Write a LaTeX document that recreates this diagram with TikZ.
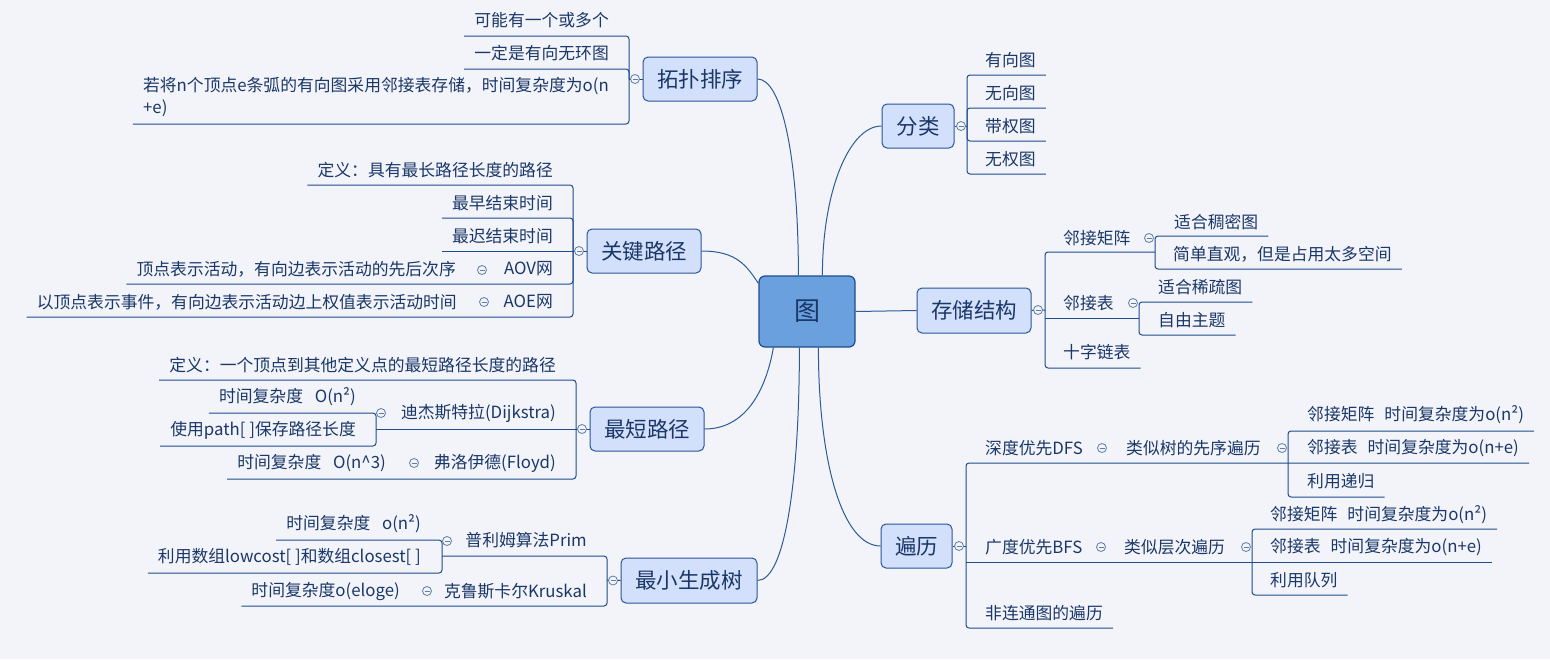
\documentclass[tikz,border=0pt]{standalone}
\usepackage{fontspec}
\setmainfont{Noto Sans CJK SC}
\definecolor{bgc}{HTML}{F2F4FA}
\definecolor{txt}{HTML}{1B3768}
\definecolor{lnc}{HTML}{1F4C8C}
\definecolor{conc}{HTML}{2F5B94}
\definecolor{mfill}{HTML}{D2E0FC}
\definecolor{mdraw}{HTML}{2A5599}
\definecolor{rfill}{HTML}{69A0DD}
\definecolor{rdraw}{HTML}{1B4E8E}
\definecolor{cc}{HTML}{5E7DA8}
\begin{document}
\begin{tikzpicture}[x=1pt,y=-1pt,
  rootbox/.style={draw=rdraw, fill=rfill, line width=1.2pt, rounded corners=6pt,
    minimum width=96pt, minimum height=71pt, inner sep=0pt, text=txt,
    font=\fontsize{26}{30}\selectfont},
  mtopic/.style={draw=mdraw, fill=mfill, line width=1pt, rounded corners=5pt,
    minimum height=44pt, inner sep=0pt, text=txt, font=\fontsize{21.5}{26}\selectfont},
  leaf/.style={inner xsep=10pt, inner ysep=1pt, text=txt, font=\fontsize{16.8}{22}\selectfont},
  leafl/.style={leaf, anchor=east},
  leafr/.style={leaf, anchor=west},
  uline/.style={draw=lnc, line width=1pt},
  rnd/.style={rounded corners=3pt},
  conn/.style={draw=conc, line width=1pt},
  colc/.style={circle, draw=cc, fill=bgc, line width=0.8pt, minimum size=9pt, inner sep=0pt,
    path picture={\draw[cc, line width=0.8pt] ([xshift=-2.5pt]path picture bounding box.center) -- ([xshift=2.5pt]path picture bounding box.center);}}
]
\fill[bgc] (0,0) rectangle (1550,659);
\useasboundingbox (0,0) rectangle (1550,659);

% ---------- root and main topics ----------
\node[rootbox] (root) at (807,311.5) {图};
\node[mtopic, minimum width=114pt] (topo) at (700,79) {拓扑排序};
\node[mtopic, minimum width=114pt] (key) at (644,251) {关键路径};
\node[mtopic, minimum width=114pt] (short) at (647,429) {最短路径};
\node[mtopic, minimum width=136pt, minimum height=45pt] (mst) at (689,580.5) {最小生成树};
\node[mtopic, minimum width=72pt] (fenlei) at (918,126) {分类};
\node[mtopic, minimum width=114pt, minimum height=45pt] (store) at (974,310.5) {存储结构};
\node[mtopic, minimum width=71pt] (bianli) at (916.5,546) {遍历};

% ---------- curves from root ----------
\draw[conn] (topo.east) .. controls +(24,0) and +(0,-120) .. ([xshift=40pt]root.north west);
\draw[conn] (key.east) .. controls +(35,0) and +(-12,-18) .. ([yshift=-8pt]root.north west);
\draw[conn] (short.east) .. controls +(40,0) and +(-8,45) .. ([xshift=15pt]root.south west);
\draw[conn] (mst.east) .. controls +(28,0) and +(0,130) .. ([xshift=41pt]root.south west);
\draw[conn] (fenlei.west) .. controls +(-32,0) and +(0,-85) .. ([xshift=64pt]root.north west);
\draw[conn] (root.east) -- (store.west);
\draw[conn] (bianli.west) .. controls +(-38,0) and +(0,115) .. ([xshift=60pt]root.south west);

% ---------- 拓扑排序 ----------
\node[leafl] (t1) at (619,20) {可能有一个或多个};
\node[leafl] (t2) at (619,53) {一定是有向无环图};
\node[leafl, align=left] (t3) at (619,97) {若将n个顶点e条弧的有向图采用邻接表存储，时间复杂度为o(n\\+e)};
\coordinate (bt) at (629,79);
\draw[uline] (topo.west) -- (bt);
\draw[uline, rnd] (bt) -- (bt |- 0,36) -- (t1.west |- 0,36);
\draw[uline, rnd] (bt) -- (bt |- 0,69) -- (t2.west |- 0,69);
\draw[uline, rnd] (bt) -- (bt |- 0,124) -- (t3.west |- 0,124);

% ---------- 关键路径 ----------
\node[leafl] (d1) at (563,170) {定义：具有最长路径长度的路径};
\node[leafl] (d2) at (563,203) {最早结束时间};
\node[leafl] (d3) at (563,236) {最迟结束时间};
\node[leafl] (d4) at (563,269) {AOV网};
\node[leafl] (d4c) at (466,269) {顶点表示活动，有向边表示活动的先后次序};
\node[leafl] (d5) at (563,302) {AOE网};
\node[leafl] (d5c) at (467,302) {以顶点表示事件，有向边表示活动边上权值表示活动时间};
\coordinate (bk) at (573,251);
\draw[uline] (key.west) -- (bk);
\draw[uline, rnd] (bk) -- (bk |- 0,185) -- (d1.west |- 0,185);
\draw[uline, rnd] (bk) -- (bk |- 0,218) -- (d2.west |- 0,218);
\draw[uline] (bk) -- (d3.west |- 0,251);
\draw[uline, rnd] (bk) -- (bk |- 0,284) -- (d4c.west |- 0,284);
\draw[uline, rnd] (bk) -- (bk |- 0,317) -- (d5c.west |- 0,317);

% ---------- 最短路径 ----------
\node[leafl] (e1) at (566,365) {定义：一个顶点到其他定义点的最短路径长度的路径};
\node[leafl] (e2) at (566,413) {迪杰斯特拉(Dijkstra)};
\node[leafl] (e2a) at (366,397) {时间复杂度\hspace{0.7em}O(n²)};
\node[leafl] (e2b) at (366,430) {使用path[ ]保存路径长度};
\node[leafl] (e3) at (566,463) {弗洛伊德(Floyd)};
\node[leafl] (e3c) at (396,463) {时间复杂度\hspace{0.7em}O(n\textasciicircum 3)};
\coordinate (bs) at (576,429);
\coordinate (bs2) at (376,413);
\draw[uline] (short.west) -- (bs);
\draw[uline, rnd] (bs) -- (bs |- 0,380) -- (e1.west |- 0,380);
\draw[uline] (bs) -- (bs2 |- 0,429);
\draw[uline, rnd] (bs) -- (bs |- 0,479) -- (e3c.west |- 0,479);
\draw[uline, rnd] (e2a.west |- 0,413) -- (bs2) -- (bs2 |- 0,446) -- (e2b.west |- 0,446);

% ---------- 最小生成树 ----------
\node[leafl] (f1) at (597,540) {普利姆算法Prim};
\node[leafl] (f1a) at (431,524) {时间复杂度\hspace{0.7em}o(n²)};
\node[leafl] (f1b) at (431,557) {利用数组lowcost[ ]和数组closest[ ]};
\node[leafl] (f2) at (597,591) {克鲁斯卡尔Kruskal};
\node[leafl] (f2c) at (410,591) {时间复杂度o(eloge)};
\coordinate (bm) at (607,580);
\coordinate (bm2) at (442,540);
\draw[uline] (mst.west) -- (bm);
\draw[uline, rnd] (bm) -- (bm |- 0,556) -- (bm2 |- 0,556);
\draw[uline, rnd] (bm) -- (bm |- 0,606) -- (f2c.west |- 0,606);
\draw[uline, rnd] (f1a.west |- 0,540) -- (bm2) -- (bm2 |- 0,573) -- (f1b.west |- 0,573);

% ---------- 分类 ----------
\node[leafr] (g1) at (975,60) {有向图};
\node[leafr] (g2) at (975,93) {无向图};
\node[leafr] (g3) at (975,126) {带权图};
\node[leafr] (g4) at (975,159) {无权图};
\coordinate (bf) at (967,126);
\draw[uline] (fenlei.east) -- (bf);
\draw[uline, rnd] (bf) -- (bf |- 0,75) -- (g1.east |- 0,75);
\draw[uline, rnd] (bf) -- (bf |- 0,108) -- (g2.east |- 0,108);
\draw[uline, rnd] (bf) -- (bf |- 0,141) -- (g3.east |- 0,141);
\draw[uline, rnd] (bf) -- (bf |- 0,174) -- (g4.east |- 0,174);

% ---------- 存储结构 ----------
\node[leafr] (h1) at (1053,238) {邻接矩阵};
\node[leafr] (a1) at (1164,222) {适合稠密图};
\node[leafr] (a2) at (1163,254) {简单直观，但是占用太多空间};
\node[leafr] (h2) at (1053,303) {邻接表};
\node[leafr] (b1) at (1148,287) {适合稀疏图};
\node[leafr] (b2) at (1148,320) {自由主题};
\node[leafr] (h3) at (1053,352) {十字链表};
\coordinate (bc) at (1045,310);
\coordinate (bc1) at (1155,236);
\coordinate (bc2) at (1139,302);
\draw[uline] (store.east) -- (bc);
\draw[uline, rnd] (bc) -- (bc |- 0,252) -- (bc1 |- 0,252);
\draw[uline] (bc |- 0,318) -- (bc2 |- 0,318);
\draw[uline, rnd] (bc) -- (bc |- 0,368) -- (h3.east |- 0,368);
\draw[uline, rnd] (a1.east |- 0,236) -- (bc1) -- (bc1 |- 0,269) -- (a2.east |- 0,269);
\draw[uline, rnd] (b1.east |- 0,302) -- (bc2) -- (bc2 |- 0,335) -- (b2.east |- 0,335);

% ---------- 遍历 ----------
\node[leafr] (k1) at (975,448) {深度优先DFS};
\node[leafr] (k1b) at (1116,448) {类似树的先序遍历};
\node[leafr] (s1) at (1297,415) {邻接矩阵\hspace{0.6em}时间复杂度为o(n²)};
\node[leafr] (s2) at (1297,448) {邻接表\hspace{0.6em}时间复杂度为o(n+e)};
\node[leafr] (s3) at (1297,481) {利用递归};
\node[leafr] (k2) at (975,547) {广度优先BFS};
\node[leafr] (k2b) at (1114,547) {类似层次遍历};
\node[leafr] (u1) at (1260,515) {邻接矩阵\hspace{0.6em}时间复杂度为o(n²)};
\node[leafr] (u2) at (1260,547) {邻接表\hspace{0.6em}时间复杂度为o(n+e)};
\node[leafr] (u3) at (1260,580) {利用队列};
\node[leafr] (k3) at (975,613) {非连通图的遍历};
\coordinate (bb) at (966,546);
\coordinate (bb1) at (1288,431);
\coordinate (bb2) at (1252,529);
\draw[uline] (bianli.east) -- (bb);
\draw[uline, rnd] (bb) -- (bb |- 0,463) -- (s2.east |- 0,463);
\draw[uline] (bb |- 0,562) -- (u2.east |- 0,562);
\draw[uline, rnd] (bb) -- (bb |- 0,628) -- (k3.east |- 0,628);
\draw[uline, rnd] (s1.east |- 0,431) -- (bb1) -- (bb1 |- 0,497) -- (s3.east |- 0,497);
\draw[uline, rnd] (u1.east |- 0,529) -- (bb2) -- (bb2 |- 0,595) -- (u3.east |- 0,595);

% ---------- collapse circles ----------
\node[colc] (ctopo) at (635,79) {};
\node[colc] (ckey) at (579,251) {};
\node[colc] (caov) at (482,270) {};
\node[colc] (caoe) at (484,302) {};
\node[colc] (cshort) at (582,429) {};
\node[colc] (cdij) at (381,413) {};
\node[colc] (cflo) at (414,463) {};
\node[colc] (cmst) at (613,580.5) {};
\node[colc] (cprim) at (447,541) {};
\node[colc] (ckru) at (427,591) {};
\node[colc] (cfl) at (961,126) {};
\node[colc] (cst) at (1038,310) {};
\node[colc] (cjz) at (1149,238) {};
\node[colc] (cjb) at (1133,303) {};
\node[colc] (cbl) at (959,546) {};
\node[colc] (cdfs) at (1102,448) {};
\node[colc] (cdfs2) at (1282,448) {};
\node[colc] (cbfs) at (1101,547) {};
\node[colc] (cbfs2) at (1246,547) {};
\end{tikzpicture}
\end{document}
